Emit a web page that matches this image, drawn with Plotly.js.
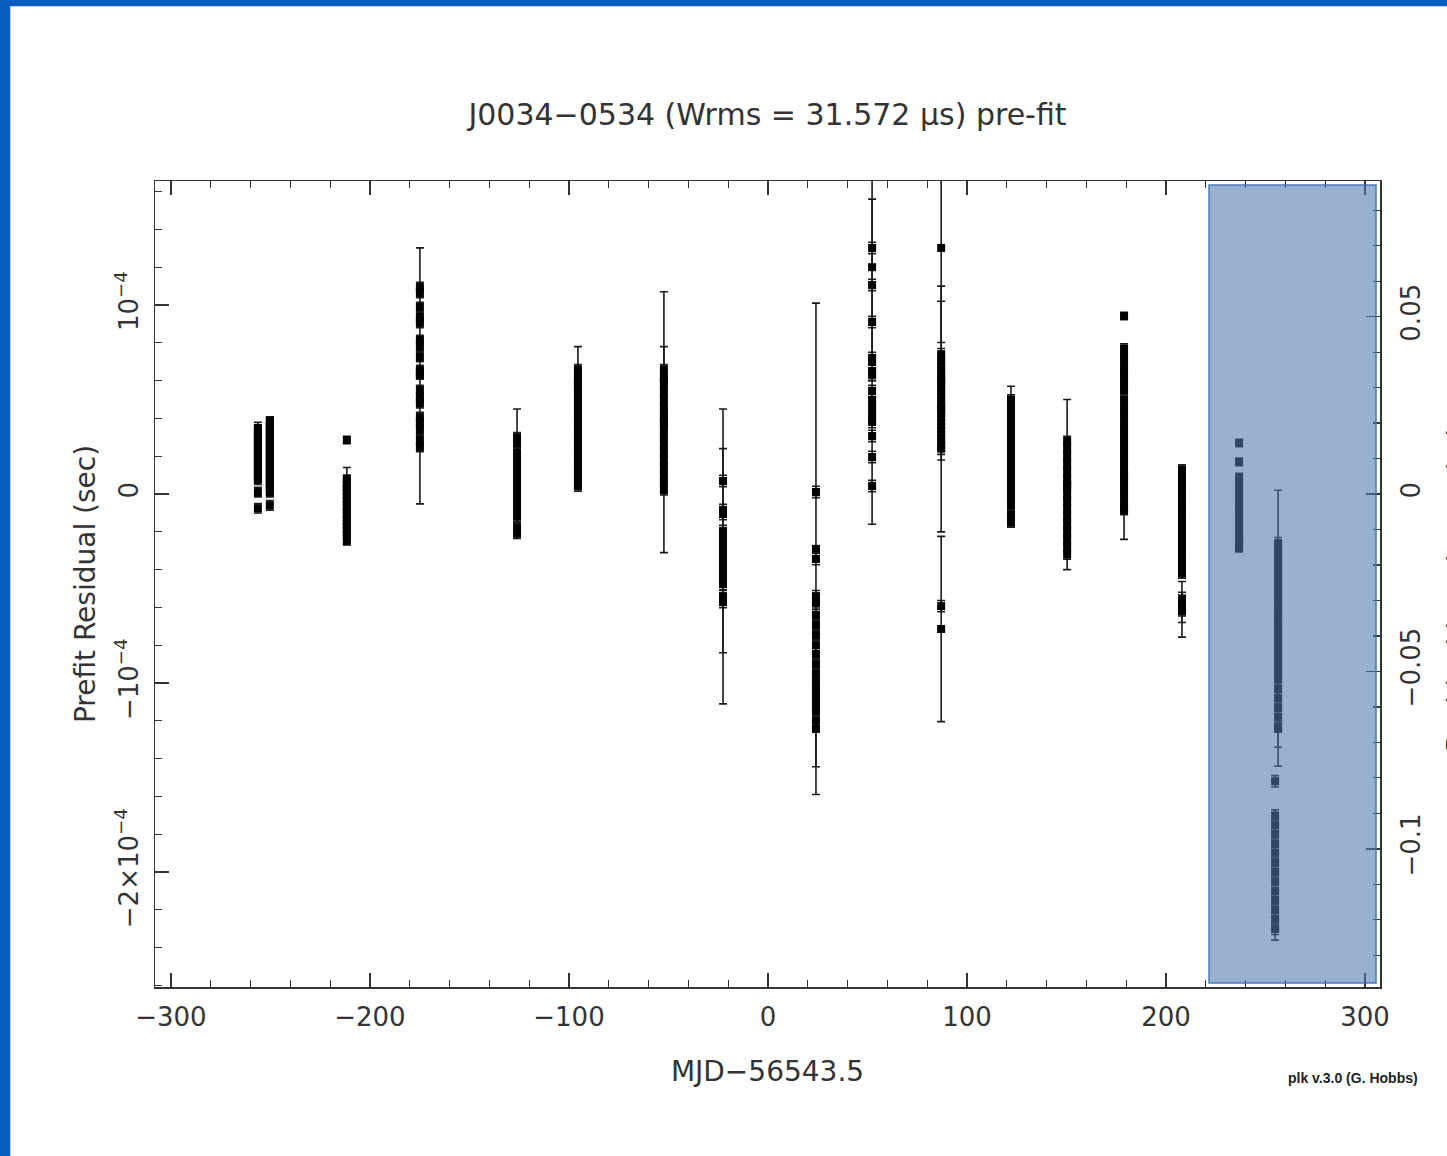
<!DOCTYPE html>
<html>
<head>
<meta charset="utf-8">
<script src="https://cdn.plot.ly/plotly-3.0.1.min.js"></script>
<style>
  html, body { margin:0; padding:0; background:#fff; }
  #wrap { position:relative; width:1447px; height:1156px; overflow:hidden; }
  #plot { position:absolute; left:0; top:0; width:1447px; height:1156px; }
  .bl { position:absolute; left:0; top:0; width:10px; height:1156px; background:#065dbf; }
  .bt { position:absolute; left:0; top:0; width:1447px; height:6px; background:#065dbf; }
  .bl2 { position:absolute; left:10px; top:6px; width:1px; height:1150px; background:#b9d2f0; }
  .bt2 { position:absolute; left:10px; top:6px; width:1437px; height:1px; background:#b9d2f0; }
</style>
</head>
<body>
<div id="wrap">
  <div id="plot"></div>
  <div class="bl"></div><div class="bt"></div><div class="bl2"></div><div class="bt2"></div>
</div>
<script>
// ---- Data (MJD - 56543.5 in days, residuals and errors in microseconds) ----
const clusterMjd = [-256.3, -250.3, -211.6, -174.9, -126.1, -95.5, -52.3, -22.6, 24.1,
                    52.3, 87.0, 122.1, 150.3, 178.9, 208.0, 236.7, 256.3, 254.8];

const clusterRes = [
  [35,33,31,29,27,25,23,21,19,17,15,13,11,9,7.5,1,-7.5],
  [39,37,35,33,31,29,27,25,23,21,19,17,15,13,11,9,7,5,3,1,-6],
  [28.6,8,6,4,2,0,-2,-4,-6,-8,-10,-12,-14,-16,-18,-20,-22,-25,3],
  [109.5,106.3,98.9,93.7,90.5,81.5,77.8,72.5,65.6,64,55,51.3,48.1,40.7,37.6,33.9,28.6,24.9,62.5],
  [30,27,22,19,16,12,9,6,3,0,-3,-6,-9,-12,-18,-21,15],
  [66,62,58,54,50,46,42,38,34,30,26,22,18,14,10,7,4,58],
  [66,62,58,54,50,46,42,38,34,30,26,22,18,14,10,6,2,38,60],
  [6.9,-8.5,-10.6,-19.6,-22.8,-24.9,-27,-30.2,-35.4,-38,-41.3,-44.4,-47.6,-54,-57.1,-33,-30],
  [1.1,-34.4,-54,-58,-64,-69.3,-74.6,-80,-84.7,-90,-95.2,-99.5,-103.7,-107.4,-111,-114.8,-120,-124.3,-29],
  [130.2,110.6,91,72,65.1,63,54.5,49.7,45.5,41.3,38.1,30.7,19.6,4.2,70,120],
  [130.2,74,70,66,62,58,54,50,46,42,38,34,30,26,24,-59.3,-71.4,45,60],
  [50,46,42,38,34,30,26,22,18,14,10,6,2,-2,-6,-11,-15,40],
  [28,24,20,16,12,8,4,0,-4,-8,-12,-16,-20,-24,-28,-32,5],
  [94.2,77,73,69,65,62,58,55,50,46,42,38,34,30,26,22,18,14,10,6,2,-2,-6,-8.5,10],
  [13,9,5,1,-3,-7,-11,-15,-19,-23,-27,-31,-35,-39,-42,-56,-59,-62,-61,-60],
  [27,17,9,6,3,0,-3,-6,-9,-12,-15,-18,-21,-24,-27,-28.6],
  [-26,-30,-34,-38,-42,-46,-50,-54,-58,-62,-66,-70,-74,-78,-82,-86,-90,-94,-98,-103,-108,-113,-118,-123,-66,-124],
  [-152,-170,-175,-180,-185,-190,-195,-200,-205,-210,-215,-220,-225,-230,-230]
];

const clusterErr = [
  [3,2.5,2.5,2.5,2.5,2.5,2.5,2.5,2.5,2.5,2.5,2.5,2.5,2.5,2.5,2.5,2.5],
  [1.7,2.5,2.5,2.5,2.5,2.5,2.5,2.5,2.5,2.5,2.5,2.5,2.5,2.5,2.5,2.5,2.5,2.5,2.5,2.5,2.5],
  [2,2,2,2,2,2,2,2,2,2,2,2,2,2,2,2,2,2,11],
  [2.5,2.5,2.5,2.5,2.5,2.5,2.5,2.5,2.5,2.5,2.5,2.5,2.5,2.5,2.5,2.5,2.5,2.5,67.7],
  [2.5,2.5,2.5,2.5,2.5,2.5,2.5,2.5,2.5,2.5,2.5,2.5,2.5,2.5,2.5,2.5,30],
  [2.5,2.5,2.5,2.5,2.5,2.5,2.5,2.5,2.5,2.5,2.5,2.5,2.5,2.5,2.5,2.5,2.5,20],
  [2.5,2.5,2.5,2.5,2.5,2.5,2.5,2.5,2.5,2.5,2.5,2.5,2.5,2.5,2.5,2.5,2.5,69,18],
  [3,3,3,3,3,3,3,3,3,3,3,3,3,3,3,78,54],
  [3,3,3,3,3,3,3,3,3,3,3,3,3,3,3,3,3,20,130],
  [3,3,3,3,3,3,3,3,3,3,3,3,3,3,86,60],
  [50,3,3,3,3,3,3,3,3,3,3,3,3,3,3,3,49,65,42],
  [2.5,2.5,2.5,2.5,2.5,2.5,2.5,2.5,2.5,2.5,2.5,2.5,2.5,2.5,2.5,2.5,2.5,17],
  [2.5,2.5,2.5,2.5,2.5,2.5,2.5,2.5,2.5,2.5,2.5,2.5,2.5,2.5,2.5,2.5,45],
  [2,2.5,2.5,2.5,2.5,2.5,2.5,2.5,2.5,2.5,2.5,2.5,2.5,2.5,2.5,2.5,2.5,2.5,2.5,2.5,2.5,2.5,2.5,2.5,34],
  [2.5,2.5,2.5,2.5,2.5,2.5,2.5,2.5,2.5,2.5,2.5,2.5,2.5,2.5,2.5,2.5,2.5,2.5,14.7,8],
  [2,2,2,2,2,2,2,2,2,2,2,2,2,2,2,2],
  [3,3,3,3,3,3,3,3,3,3,3,3,3,3,3,3,3,3,3,3,3,3,3,3,68,20],
  [3,3,3,3,3,3,3,3,3,3,3,3,3,3,6]
];

const xTickVals = [-300, -200, -100, 0, 100, 200, 300];
const xTickText = ['−300', '−200', '−100', '0', '100', '200', '300'];
const yTickVals = [-2e-4, -1e-4, 0, 1e-4];
const yTickText = ['−2×10<sup>−4</sup>', '−10<sup>−4</sup>', '0', '10<sup>−4</sup>'];
const y2TickVals = [-0.1, -0.05, 0, 0.05];
const y2TickText = ['−0.1', '−0.05', '0', '0.05'];

const pulsePeriod = 1.877e-3;          // s, used for the phase axis
const xRange = [-308, 307.5];
const yRange = [-2.608e-4, 1.656e-4];

// ---- Build trace ----
const xs = [], ys = [], es = [];
clusterMjd.forEach((m, i) => {
  clusterRes[i].forEach((r, j) => {
    xs.push(m);
    ys.push(r * 1e-6);
    es.push(clusterErr[i][j] * 1e-6);
  });
});

const trace = {
  type: 'scatter', mode: 'markers',
  x: xs, y: ys,
  marker: { symbol: 'square', size: 8, color: '#000', line: { width: 0 } },
  error_y: { type: 'data', array: es, visible: true, color: '#1a1a1a', thickness: 1.6, width: 4 },
  hoverinfo: 'x+y', showlegend: false
};
// dummy trace to activate y2
const trace2 = { type: 'scatter', mode: 'markers', x: [0], y: [0], yaxis: 'y2', showlegend: false,
                 marker: { opacity: 0 }, hoverinfo: 'skip' };

const axisCol = '#333';
const layout = {
  width: 1447, height: 1156,
  margin: { l: 155, r: 67, t: 181, b: 169, pad: 0 },
  paper_bgcolor: '#fff', plot_bgcolor: '#fff',
  font: { family: 'DejaVu Sans, sans-serif', color: '#333', size: 26 },
  showlegend: false,
  title: {
    text: 'J0034−0534 (Wrms = 31.572 μs) pre-fit',
    font: { size: 30, color: '#333' },
    x: 0.5, xref: 'paper', xanchor: 'center',
    y: 1 - 114 / 1156, yref: 'container', yanchor: 'middle'
  },
  xaxis: {
    range: xRange, tickmode: 'array', tickvals: xTickVals, ticktext: xTickText,
    ticks: 'inside', ticklen: 14, tickwidth: 1.5, tickcolor: axisCol,
    showline: true, linecolor: axisCol, linewidth: 1.5, mirror: 'ticks',
    showgrid: false, zeroline: false, ticklabelstandoff: 6,
    minor: { tickmode: 'linear', tick0: 0, dtick: 20, ticks: 'inside', ticklen: 7, tickwidth: 1.2, tickcolor: axisCol, showgrid: false },
    title: { text: 'MJD−56543.5', font: { size: 28 }, standoff: 30 }
  },
  yaxis: {
    range: yRange, tickmode: 'array', tickvals: yTickVals, ticktext: yTickText,
    tickangle: -90,
    ticks: 'inside', ticklen: 14, tickwidth: 1.5, tickcolor: axisCol,
    showline: true, linecolor: axisCol, linewidth: 1.5, mirror: false,
    showgrid: false, zeroline: false, ticklabelstandoff: 5,
    minor: { tickmode: 'linear', tick0: 0, dtick: 2e-5, ticks: 'inside', ticklen: 7, tickwidth: 1.2, tickcolor: axisCol, showgrid: false },
    title: { text: 'Prefit Residual (sec)', font: { size: 28 }, standoff: 6 }
  },
  yaxis2: {
    overlaying: 'y', side: 'right',
    range: [yRange[0] / pulsePeriod, yRange[1] / pulsePeriod],
    tickmode: 'array', tickvals: y2TickVals, ticktext: y2TickText,
    tickangle: -90,
    ticks: 'inside', ticklen: 14, tickwidth: 1.5, tickcolor: axisCol,
    showline: true, linecolor: axisCol, linewidth: 1.5,
    showgrid: false, zeroline: false, ticklabelstandoff: 7,
    minor: { tickmode: 'linear', tick0: 0, dtick: 0.01, ticks: 'inside', ticklen: 7, tickwidth: 1.2, tickcolor: axisCol, showgrid: false }
  },
  shapes: [{
    type: 'rect', xref: 'x', yref: 'y', layer: 'above',
    x0: 221.6, x1: 305.5, y0: -2.587e-4, y1: 1.635e-4,
    fillcolor: 'rgba(76,121,172,0.58)',
    line: { color: 'rgba(55,110,190,0.9)', width: 1.5 }
  }],
  annotations: [
    {
      text: 'Residual in pulse periods', textangle: -90,
      xref: 'paper', yref: 'paper', x: (1456 - 155) / 1225, y: 0.5,
      xanchor: 'center', yanchor: 'middle', showarrow: false,
      font: { size: 27, color: '#333' }
    },
    {
      text: '<b>plk v.3.0 (G. Hobbs)</b>',
      xref: 'paper', yref: 'paper', x: (1353 - 155) / 1225, y: (987 - 1078) / 806,
      xanchor: 'center', yanchor: 'middle', showarrow: false,
      font: { size: 14, color: '#222', family: 'Liberation Sans, Arial, sans-serif' }
    }
  ]
};

Plotly.newPlot('plot', [trace, trace2], layout, { displayModeBar: false, staticPlot: true });
</script>
</body>
</html>
